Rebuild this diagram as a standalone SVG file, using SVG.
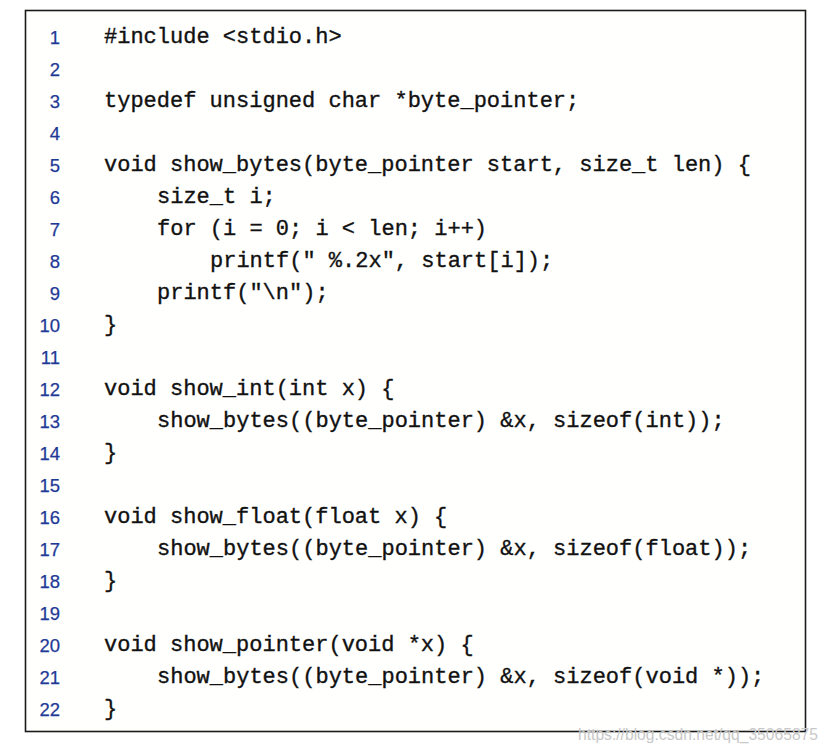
<svg xmlns="http://www.w3.org/2000/svg" width="830" height="750" viewBox="0 0 830 750">
<style>
.num{font-family:"Liberation Sans","Noto Sans",sans-serif;font-size:18.5px;fill:#1f3a96;text-anchor:end;stroke:#1f3a96;stroke-width:0.25}
.code{font-family:"Liberation Mono","DejaVu Sans Mono",monospace;font-size:22px;fill:#111;white-space:pre;stroke:#111;stroke-width:0.35}
.wm{font-family:"Liberation Sans",Arial,sans-serif;font-size:16px;fill:#c8c8c8}
</style>
<rect width="830" height="750" fill="#ffffff"/>
<g id="frame">
<rect x="25.5" y="10.5" width="780" height="721" fill="#fffffe" stroke="#1a1a1a" stroke-width="1.6"/>
</g>
<g id="line-numbers">
<text class="num" x="60" y="44">1</text>
<text class="num" x="60" y="76">2</text>
<text class="num" x="60" y="108">3</text>
<text class="num" x="60" y="140">4</text>
<text class="num" x="60" y="172">5</text>
<text class="num" x="60" y="204">6</text>
<text class="num" x="60" y="236">7</text>
<text class="num" x="60" y="268">8</text>
<text class="num" x="60" y="300">9</text>
<text class="num" x="60" y="332">10</text>
<text class="num" x="60" y="364">11</text>
<text class="num" x="60" y="396">12</text>
<text class="num" x="60" y="428">13</text>
<text class="num" x="60" y="460">14</text>
<text class="num" x="60" y="492">15</text>
<text class="num" x="60" y="524">16</text>
<text class="num" x="60" y="556">17</text>
<text class="num" x="60" y="588">18</text>
<text class="num" x="60" y="620">19</text>
<text class="num" x="60" y="652">20</text>
<text class="num" x="60" y="684">21</text>
<text class="num" x="60" y="716">22</text>
</g>
<g id="code" xml:space="preserve">
<text class="code" x="104" y="43">#include &lt;stdio.h&gt;</text>
<text class="code" x="104" y="107">typedef unsigned char *byte_pointer;</text>
<text class="code" x="104" y="171">void show_bytes(byte_pointer start, size_t len) {</text>
<text class="code" x="157" y="203">size_t i;</text>
<text class="code" x="157" y="235">for (i = 0; i &lt; len; i++)</text>
<text class="code" x="210" y="267">printf(" %.2x", start[i]);</text>
<text class="code" x="157" y="299">printf("\n");</text>
<text class="code" x="104" y="331">}</text>
<text class="code" x="104" y="395">void show_int(int x) {</text>
<text class="code" x="157" y="427">show_bytes((byte_pointer) &amp;x, sizeof(int));</text>
<text class="code" x="104" y="459">}</text>
<text class="code" x="104" y="523">void show_float(float x) {</text>
<text class="code" x="157" y="555">show_bytes((byte_pointer) &amp;x, sizeof(float));</text>
<text class="code" x="104" y="587">}</text>
<text class="code" x="104" y="651">void show_pointer(void *x) {</text>
<text class="code" x="157" y="683">show_bytes((byte_pointer) &amp;x, sizeof(void *));</text>
<text class="code" x="104" y="715">}</text>
</g>
<g id="watermark">
<text class="wm" x="578" y="740" textLength="240" lengthAdjust="spacingAndGlyphs">https://blog.csdn.net/qq_35065875</text>
</g>
</svg>
